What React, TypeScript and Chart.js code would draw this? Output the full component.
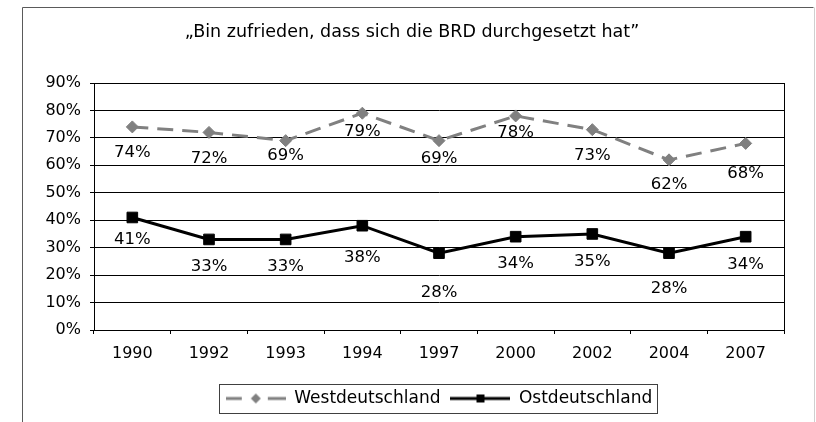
import React, { useEffect, useRef } from "react";
import { Chart, registerables } from "chart.js";

Chart.register(...registerables);

// ---- data ----
const years = ["1990", "1992", "1993", "1994", "1997", "2000", "2002", "2004", "2007"];
const westValues = [74, 72, 69, 79, 69, 78, 73, 62, 68];
const ostValues = [41, 33, 33, 38, 28, 34, 35, 28, 34];
const yTickValues = [0, 10, 20, 30, 40, 50, 60, 70, 80, 90];
const seriesNames = ["Westdeutschland", "Ostdeutschland"];
const titleText = "\u201EBin zufrieden, dass sich die BRD durchgesetzt hat\u201D";

// ---- label placement (style, px below the point) ----
const westLabelDy = [26, 26, 15, 19, 18, 17, 26, 25, 30];
const ostLabelDy = [22, 27, 27, 32, 40, 27, 28, 36, 28];

const FONT = "'DejaVu Sans', Verdana, sans-serif";
const WEST_COLOR = "#808080";
const OST_COLOR = "#000000";

function makeLegendSymbol(kind: "west" | "ost"): HTMLCanvasElement {
  const c = document.createElement("canvas");
  const w = 60;
  const h = 14;
  c.width = w;
  c.height = h;
  const ctx = c.getContext("2d")!;
  const cy = h / 2;
  ctx.lineWidth = 3;
  if (kind === "west") {
    ctx.strokeStyle = WEST_COLOR;
    ctx.beginPath();
    ctx.moveTo(0, cy);
    ctx.lineTo(16, cy);
    ctx.moveTo(42, cy);
    ctx.lineTo(60, cy);
    ctx.stroke();
    ctx.fillStyle = WEST_COLOR;
    ctx.beginPath();
    ctx.moveTo(30, cy - 5);
    ctx.lineTo(35, cy);
    ctx.lineTo(30, cy + 5);
    ctx.lineTo(25, cy);
    ctx.closePath();
    ctx.fill();
  } else {
    ctx.strokeStyle = OST_COLOR;
    ctx.beginPath();
    ctx.moveTo(0, cy);
    ctx.lineTo(60, cy);
    ctx.stroke();
    ctx.fillStyle = OST_COLOR;
    ctx.fillRect(26, cy - 4, 8, 8);
  }
  return c;
}

const framePlugin = {
  id: "frame",
  beforeDraw(chart: any) {
    const ctx = chart.ctx;
    ctx.save();
    ctx.fillStyle = "#ffffff";
    ctx.fillRect(0, 0, chart.width, chart.height);
    ctx.lineWidth = 1;
    // outer border
    ctx.strokeStyle = "#5a5a5a";
    ctx.beginPath();
    ctx.moveTo(22.5, chart.height + 2);
    ctx.lineTo(22.5, 7.5);
    ctx.lineTo(813.5, 7.5);
    ctx.stroke();
    ctx.strokeStyle = "#cfcfcf";
    ctx.beginPath();
    ctx.moveTo(814.5, 7.5);
    ctx.lineTo(814.5, chart.height + 2);
    ctx.stroke();
    ctx.restore();
  },
  beforeDatasetsDraw(chart: any) {
    const { ctx, chartArea } = chart;
    ctx.save();
    ctx.strokeStyle = "#000000";
    ctx.lineWidth = 1;
    const l = Math.round(chartArea.left) + 0.5;
    const t = Math.round(chartArea.top) + 0.5;
    const r = Math.round(chartArea.right) + 0.5;
    const b = Math.round(chartArea.bottom) + 0.5;
    ctx.strokeRect(l, t, r - l, b - t);
    ctx.restore();
  },
  afterDatasetsDraw(chart: any) {
    const ctx = chart.ctx;
    const offsets = [westLabelDy, ostLabelDy];
    ctx.save();
    ctx.font = `16.5px ${FONT}`;
    ctx.fillStyle = "#000000";
    ctx.textAlign = "center";
    ctx.textBaseline = "middle";
    chart.data.datasets.forEach((ds: any, di: number) => {
      const meta = chart.getDatasetMeta(di);
      meta.data.forEach((pt: any, i: number) => {
        const v = ds.data[i];
        ctx.fillText(`${v}%`, pt.x, pt.y + offsets[di][i]);
      });
    });
    ctx.restore();
  },
  afterDraw(chart: any) {
    const legend = chart.legend;
    if (!legend || !legend.legendHitBoxes || !legend.legendHitBoxes.length) return;
    const boxes = legend.legendHitBoxes;
    let minL = Infinity, maxR = -Infinity, minT = Infinity, maxB = -Infinity;
    boxes.forEach((b: any) => {
      minL = Math.min(minL, b.left);
      maxR = Math.max(maxR, b.left + b.width);
      minT = Math.min(minT, b.top);
      maxB = Math.max(maxB, b.top + b.height);
    });
    const ctx = chart.ctx;
    ctx.save();
    ctx.strokeStyle = "#404040";
    ctx.lineWidth = 1;
    const x = Math.round(minL - 7) + 0.5;
    const y = Math.round(minT - 6) + 0.5;
    const w = Math.round(maxR - minL + 12);
    const h = Math.round(maxB - minT + 12);
    ctx.strokeRect(x, y, w, h);
    ctx.restore();
  },
};

export default function App() {
  const canvasRef = useRef<HTMLCanvasElement | null>(null);

  useEffect(() => {
    const canvas = canvasRef.current;
    if (!canvas) return;
    const westSym = makeLegendSymbol("west");
    const ostSym = makeLegendSymbol("ost");

    const chart = new Chart(canvas, {
      type: "line",
      data: {
        labels: years,
        datasets: [
          {
            label: seriesNames[0],
            data: westValues,
            borderColor: WEST_COLOR,
            backgroundColor: WEST_COLOR,
            borderWidth: 3,
            borderDash: [16, 9],
            pointStyle: "rectRot",
            pointRadius: 6,
            pointBorderWidth: 1,
            pointBackgroundColor: WEST_COLOR,
            pointBorderColor: WEST_COLOR,
            tension: 0,
            fill: false,
          },
          {
            label: seriesNames[1],
            data: ostValues,
            borderColor: OST_COLOR,
            backgroundColor: OST_COLOR,
            borderWidth: 3,
            pointStyle: "rect",
            pointRadius: 7.5,
            pointBorderWidth: 1,
            pointBackgroundColor: OST_COLOR,
            pointBorderColor: OST_COLOR,
            tension: 0,
            fill: false,
          },
        ],
      },
      options: {
        responsive: false,
        animation: false,
        devicePixelRatio: 1,
        layout: { padding: { left: 40, right: 32, top: 10, bottom: 5 } },
        scales: {
          x: {
            type: "category",
            offset: true,
            grid: {
              offset: true,
              drawOnChartArea: false,
              drawTicks: true,
              tickLength: 4,
              color: "#000000",
              lineWidth: 1,
            },
            border: { color: "#000000", width: 1 },
            ticks: {
              color: "#000000",
              font: { family: FONT, size: 16 },
              padding: 10,
              maxRotation: 0,
              autoSkip: false,
            },
            afterFit: (s: any) => {
              s.height = 50;
            },
          },
          y: {
            min: 0,
            max: 90,
            grid: {
              color: "#000000",
              lineWidth: 1,
              drawTicks: true,
              tickLength: 4,
            },
            border: { color: "#000000", width: 1 },
            ticks: {
              color: "#000000",
              font: { family: FONT, size: 16 },
              padding: 9,
              callback: (v: any) => `${v}%`,
            },
            afterBuildTicks: (s: any) => {
              s.ticks = yTickValues.map((v) => ({ value: v }));
            },
            afterFit: (s: any) => {
              s.width = 54;
            },
          },
        },
        plugins: {
          title: {
            display: true,
            text: titleText,
            color: "#000000",
            font: { family: FONT, size: 17.5, weight: "normal" },
            padding: { top: 12, bottom: 40 },
          },
          legend: {
            display: true,
            position: "bottom",
            fullSize: false,
            labels: {
              color: "#000000",
              font: { family: FONT, size: 17 },
              usePointStyle: true,
              pointStyleWidth: 60,
              padding: 10,
              generateLabels: (ch: any) =>
                ch.data.datasets.map((ds: any, i: number) => ({
                  text: ds.label,
                  pointStyle: i === 0 ? westSym : ostSym,
                  fillStyle: ds.borderColor,
                  strokeStyle: ds.borderColor,
                  lineWidth: 0,
                  hidden: false,
                  datasetIndex: i,
                  fontColor: "#000000",
                })),
            },
          },
          tooltip: { enabled: false },
        },
      },
      plugins: [framePlugin],
    } as any);

    return () => {
      chart.destroy();
    };
  }, []);

  return (
    <div style={{ position: "fixed", left: 0, top: 0, width: 816, height: 422, background: "#fff" }}>
      <canvas ref={canvasRef} width={816} height={422} style={{ display: "block" }} />
    </div>
  );
}
